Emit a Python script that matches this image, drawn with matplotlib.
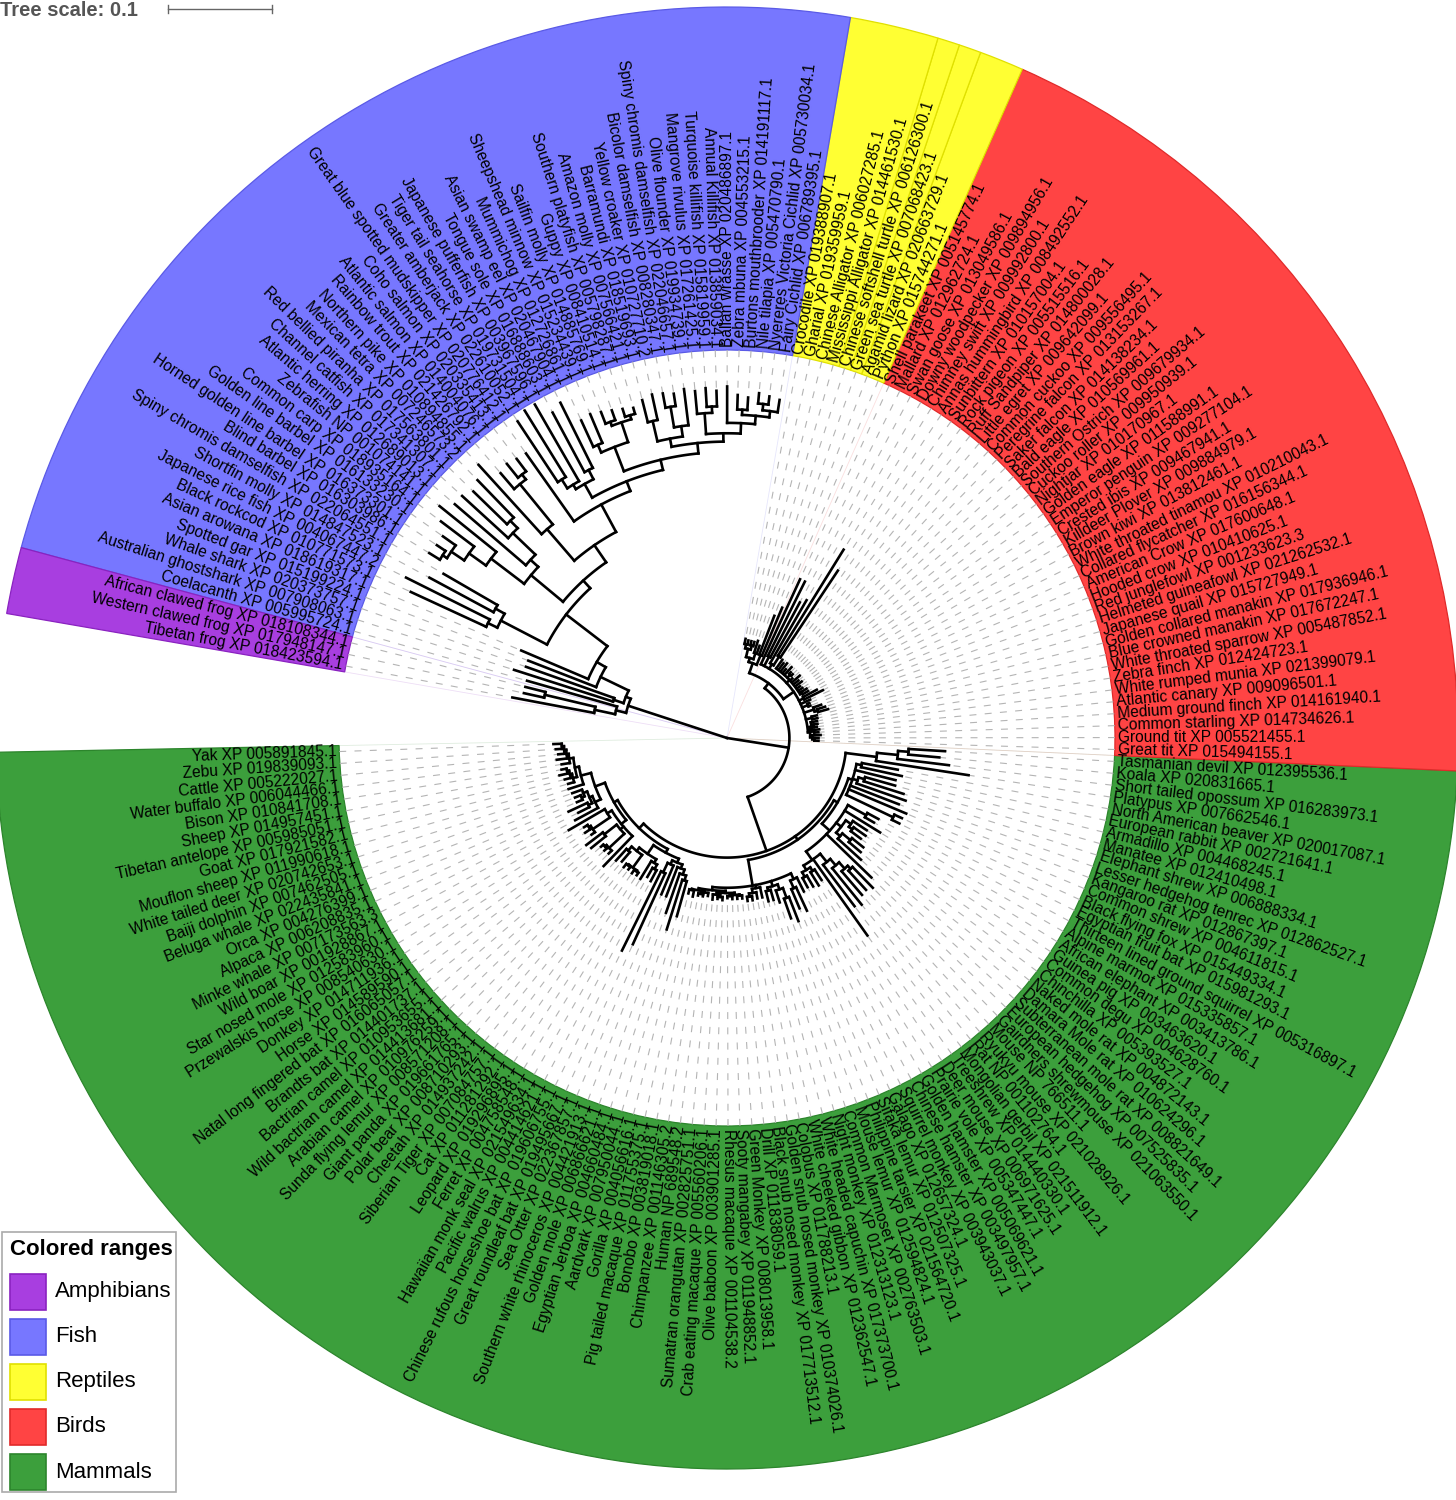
import re
import matplotlib
matplotlib.use('Agg')
import matplotlib.pyplot as plt
from matplotlib.patches import Wedge, Rectangle
from matplotlib.collections import LineCollection
import numpy as np

plt.rcParams['font.family'] = ['Liberation Sans', 'DejaVu Sans']
plt.rcParams['lines.scale_dashes'] = False

# ---------------- data ----------------
mammals = ["Yak XP 005891845.1", "Zebu XP 019839093.1", "Cattle XP 005222027.1", "Water buffalo XP 006044466.1",
           "Bison XP 010841708.1", "Sheep XP 014957451.1", "Tibetan antelope XP 005985051.1", "Goat XP 017921582.1",
           "Mouflon sheep XP 011990618.1", "White tailed deer XP 020742653.1", "Baiji dolphin XP 007462505.1",
           "Beluga whale XP 022435841.1", "Orca XP 004276399.1", "Alpaca XP 006208835.1", "Minke whale XP 007173563.3",
           "Wild boar XP 001928867.1", "Star nosed mole XP 012583960.1", "Przewalskis horse XP 008540630.1",
           "Donkey XP 014711936.1", "Horse XP 014589590.1", "Natal long fingered bat XP 016065057.1",
           "Brandts bat XP 014401737.1", "Bactrian camel XP 010953655.1", "Wild bactrian camel XP 014413681.1",
           "Arabian camel XP 010976259.1", "Sunda flying lemur XP 008571208.1", "Giant panda XP 019661765.1",
           "Polar bear XP 008710293.1", "Cheetah XP 014937242.1", "Siberian Tiger XP 007084757.1",
           "Cat XP 011281292.1", "Leopard XP 019296895.1", "Ferret XP 004758548.1",
           "Hawaiian monk seal XP 021549634.1", "Pacific walrus XP 004414621.1",
           "Chinese rufous horseshoe bat XP 019606755.1", "Great roundleaf bat XP 019495667.1",
           "Sea Otter XP 022367857.1", "Southern white rhinoceros XP 004421913.1", "Golden mole XP 006866621.1",
           "Egyptian Jerboa XP 004660484.1", "Aardvark XP 007950044.1", "Gorilla XP 004056616.1",
           "Pig tailed macaque XP 011755375.1", "Bonobo XP 003819018.1", "Chimpanzee XP 001146305.2",
           "Human NP 689548.2", "Sumatran orangutan XP 002825751.1", "Crab eating macaque XP 005560206.1",
           "Olive baboon XP 003901285.1", "Rhesus macaque XP 001104538.2", "Sooty mangabey XP 011948852.1",
           "Green Monkey XP 008013958.1", "Drill XP 011838059.1", "Black snub nosed monkey XP 017713512.1",
           "Golden snub nosed monkey XP 010374026.1", "Colobus XP 011788213.1",
           "White cheeked gibbon XP 012362547.1", "White headed capuchin XP 017373700.1",
           "Night monkey XP 012313123.1", "Common Marmoset XP 002763503.1", "Mouse lemur XP 012594824.1",
           "Philippine tarsier XP 021564720.1", "Sifaka lemur XP 012507325.1", "Galago XP 012657324.1",
           "Squirrel monkey XP 003943037.1", "Chinese hamster XP 003497957.1", "Golden hamster XP 005069621.1",
           "Prairie vole XP 005347447.1", "Deer mouse XP 006971625.1", "Treeshrew XP 014440330.1",
           "Mongolian gerbil XP 021511912.1", "Rat NP 001102764.1", "Ryukyu mouse XP 021028926.1",
           "Mouse NP 766511.1", "Gairdners shrewmouse XP 021063550.1", "European hedgehog XP 007525835.1",
           "Subterranean mole rat XP 008821649.1", "Damara Mole rat XP 010624296.1",
           "Naked mole rat XP 004872143.1", "Chinchilla XP 005393527.1", "Common degu XP 004628760.1",
           "Guinea pig XP 003463620.1", "African elephant XP 003413786.1", "Alpine marmot XP 015335857.1",
           "Thirteen lined ground squirrel XP 005316897.1", "Egyptian fruit bat XP 015981293.1",
           "Black flying fox XP 015449334.1", "Common shrew XP 004611815.1", "Kangaroo rat XP 012867397.1",
           "Lesser hedgehog tenrec XP 012862527.1", "Elephant shrew XP 006888334.1", "Manatee XP 012410498.1",
           "Armadillo XP 004468245.1", "European rabbit XP 002721641.1", "North American beaver XP 020017087.1",
           "Platypus XP 007662546.1", "Short tailed opossum XP 016283973.1", "Koala XP 020831665.1",
           "Tasmanian devil XP 012395536.1"]

birds = ["Great tit XP 015494155.1", "Ground tit XP 005521455.1", "Common starling XP 014734626.1",
         "Medium ground finch XP 014161940.1", "Atlantic canary XP 009096501.1", "White rumped munia XP 021399079.1",
         "Zebra finch XP 012424723.1", "White throated sparrow XP 005487852.1", "Blue crowned manakin XP 017672247.1",
         "Golden collared manakin XP 017936946.1", "Japanese quail XP 015727949.1",
         "Helmeted guineafowl XP 021262532.1", "Red junglefowl XP 001233623.3", "Hooded crow XP 010410625.1",
         "American Crow XP 017600648.1", "Collared flycatcher XP 016156344.1",
         "White throated tinamou XP 010210043.1", "Brown kiwi XP 013812461.1", "Killdeer Plover XP 009884979.1",
         "Crested ibis XP 009467941.1", "Emperor penguin XP 009277104.1", "Golden eagle XP 011588991.1",
         "Nightjar XP 010170967.1", "Cuckoo roller XP 009950939.1", "Southern Ostrich XP 009679934.1",
         "Bald eagle XP 010569961.1", "Saker falcon XP 014138234.1", "Peregrine falcon XP 013153267.1",
         "Common cuckoo XP 009556495.1", "Little egret XP 009642099.1", "Ruff Sandpiper XP 014800028.1",
         "Rock pigeon XP 005515516.1", "Sunbittern XP 010157004.1", "Annas hummingbird XP 008492552.1",
         "Chimney swift XP 009992800.1", "Downy woodpecker XP 009894956.1", "Swan goose XP 013049586.1",
         "Mallard XP 012962724.1", "Shell parakeet XP 005145774.1"]

reptiles = ["Python XP 015744271.1", "Agamid lizard XP 020663729.1", "Green sea turtle XP 007068423.1",
            "Chinese softshell turtle XP 006126300.1", "Mississippi Alligator XP 014461530.1",
            "Chinese Alligator XP 006027285.1", "Gharial XP 019359959.1", "Crocodile XP 019388907.1"]

fish = ["Fairy Cichlid XP 006789395.1", "Nyereres Victoria Cichlid XP 005730034.1", "Nile tilapia XP 005470790.1",
        "Burtons mouthbrooder XP 014191117.1", "Zebra mbuna XP 004553215.1", "Ballan wrasse XP 020486897.1",
        "Annual Killifish XP 013859034.1", "Turquoise killifish XP 015819959.1", "Mangrove rivulus XP 017261425.1",
        "Olive flounder XP 019934739.1", "Spiny chromis damselfish XP 022046657.1",
        "Bicolor damselfish XP 008280347.1", "Yellow croaker XP 010727710.2", "Barramundi XP 018519693.1",
        "Amazon molly XP 007566421.1", "Southern platyfish XP 005798287.1", "Guppy XP 008410514.1",
        "Sailfin molly XP 014885769.1", "Sheepshead minnow XP 015234439.1", "Mummichog XP 012726861.1",
        "Asian swamp eel XP 020467904.1", "Tongue sole XP 016888603.1", "Japanese pufferfish XP 003967596.1",
        "Tiger tail seahorse XP 019731504.1", "Greater amberjack XP 022610052.1",
        "Great blue spotted mudskipper XP 020776412.1", "Coho salmon XP 020335413.1",
        "Atlantic salmon XP 014004076.1", "Rainbow trout XP 021426792.1", "Northern pike XP 010894855.1",
        "Mexican tetra XP 007246573.2", "Red bellied piranha XP 017563801.1", "Channel catfish XP 017341307.1",
        "Atlantic herring XP 012689013.1", "Zebrafish NP 001074141.1", "Common carp XP 018935164.1",
        "Golden line barbel XP 016133230.1", "Horned golden line barbel XP 016373301.1",
        "Blind barbel XP 016303986.1", "Spiny chromis damselfish XP 022064551.1",
        "Shortfin molly XP 014847523.1", "Japanese rice fish XP 004067447.2", "Black rockcod XP 010771573.1",
        "Asian arowana XP 018619317.1", "Spotted gar XP 015199224.1", "Whale shark XP 020373757.1",
        "Australian ghostshark XP 007908063.1", "Coelacanth XP 005995724.1"]

amphibians = ["African clawed frog XP 018108344.1", "Western clawed frog XP 017948147.1",
              "Tibetan frog XP 018423594.1"]

legend_names = ["Amphibians", "Fish", "Reptiles", "Birds", "Mammals"]
legend_colors = ["#a83ee0", "#7777ff", "#ffff33", "#ff4444", "#3c9f3c"]
edge_colors = ["#8a22c0", "#5a5ae6", "#e0e000", "#e02a2a", "#2c852c"]

# ---------------- tree (estimated branch lengths, Newick pieces) ----------------
RUM = "((((((m0:.008,m1:.006):.002,m2:.006):.002,m3:.01):.002,m4:.008):.004,(((m5:.005,m6:.008):.002,m7:.006):.002,m8:.006):.004):.004,m9:.015)"
CET = "(((m10:.01,(m11:.006,m12:.006):.003):.004,(m13:.02,m14:.012):.004):.003,m15:.025)"
G2 = "((m16:.04,((m17:.004,m18:.006):.002,m19:.004):.02):.005,((m20:.02,m21:.018):.015,((m22:.003,m23:.003):.002,m24:.004):.02):.004,m25:.04)"
CARN = "(((m26:.015,m27:.012):.005,((m28:.004,m29:.003):.001,(m30:.004,m31:.003):.001):.015):.004,(m32:.02,(m33:.01,m34:.012):.005):.004)"
G4 = "(((m35:.085,m36:.075):.01,m37:.03):.004,(m38:.03,(m39:.04,(m40:.05,m41:.035):.005):.005):.004)"
PRIM = "((((m42:.004,m43:.006):.001,((m44:.002,m45:.002):.002,m46:.003):.001):.002,((m47:.005,(m48:.002,m49:.003):.002):.002,((m50:.002,m51:.003):.001,(m52:.003,m53:.003):.001):.002):.002):.003,(((m54:.004,m55:.004):.003,m56:.006):.004,m57:.01):.003,((m58:.01,m59:.01):.003,(m60:.012,(m61:.02,m62:.025):.01):.005):.005,((m63:.02,m64:.025):.008,m65:.015):.006)"
ROD = "((((m66:.01,m67:.012):.005,(m68:.015,m69:.012):.004):.005,m70:.09,(m71:.05,(m72:.045,(m73:.03,(m74:.025,m75:.028):.004):.008):.008):.01):.01,m76:.06,((m77:.03,(m78:.015,m79:.014):.01):.005,((m80:.012,m81:.014):.004,m82:.016):.006):.006,m83:.04,(m84:.01,m85:.012):.02)"
G7 = "((m86:.008,m87:.008):.05,m88:.06,m89:.05,(m90:.05,(m91:.04,m92:.03):.006):.005,m93:.04,(m94:.04,m95:.035):.005)"
MARS = "(m96:.09,(m97:.05,(m98:.03,m99:.035):.01):.02)"
ART = f"({RUM}:.01,{CET}:.006)"
MAM = f"((({ART}:.01,{G2}:.006):.004,({CARN}:.01,{G4}:.004):.004):.006,({PRIM}:.025,({ROD}:.01,{G7}:.004):.004):.004,{MARS}:.03)"

BIRD = "((((b0:.004,b1:.004):.002,b2:.008):.002,((b3:.004,b4:.005):.002,(b5:.003,b6:.004):.002,b7:.006):.002):.002,(b8:.005,b9:.005):.006,((b10:.01,b11:.008):.003,b12:.008):.01,(b13:.002,b14:.002):.006,b15:.01,(b16:.02,b17:.015):.005,((b18:.006,b19:.006):.002,b20:.005,b21:.004,b22:.008,b23:.006,b24:.01,b25:.003,(b26:.002,b27:.002):.004,b28:.01,b29:.005,b30:.01,b31:.008,b32:.01):.004,((b33:.1,b34:.12):.01,b35:.07):.005,(b36:.06,b37:.08):.01,b38:.09)"
REPT = "((r0:.05,r1:.04):.01,((r2:.008,r3:.012):.006,((r4:.004,r5:.004):.004,(r6:.004,r7:.005):.004):.008):.004)"
SAUR = f"({BIRD}:.012,{REPT}:.01)"
AMNIOTE = f"({MAM}:.055,{SAUR}:.006)"

F1 = "(((f0:.012,(f1:.008,f2:.01):.006):.006,(f3:.012,f4:.014):.005):.008,f5:.035)"
F2 = "((f6:.015,f7:.018):.006,f8:.022)"
F3 = "(f9:.035,(f10:.012,f11:.014):.02)"
F4 = "(f12:.025,f13:.022)"
F5 = "(((f14:.006,f15:.008):.004,(f16:.01,f17:.012):.004):.02,(f18:.03,f19:.028):.008)"
F6 = "((f20:.07,f21:.065):.01,(f22:.085,(f23:.075,f24:.07):.01):.005)"
CC = f"({F1}:.01,{F2}:.02)"
BB = f"({CC}:.008,({F3}:.01,{F4}:.02):.008)"
AA = f"({BB}:.01,{F5}:.025)"
PERC = f"(({AA}:.01,{F6}:.015):.01,f25:.08)"
SALM = "(((f26:.015,f27:.017):.006,f28:.02):.05,f29:.09)"
EUT = f"({PERC}:.03,{SALM}:.04)"
F9 = "((f30:.05,f31:.045):.01,f32:.06)"
F10 = "(f34:.07,(f35:.04,(f36:.015,(f37:.01,f38:.012):.005):.015):.02)"
OTO = f"(({F9}:.03,f33:.09):.01,{F10}:.04)"
LONG = "((f39:.06,f40:.07):.01,(f41:.09,f42:.08):.01)"
TEL = f"(({EUT}:.02,{OTO}:.04):.01,{LONG}:.05)"
FISHMAIN = f"(({TEL}:.05,f43:.07):.01,f44:.07)"
AMPH = "((a0:.02,a1:.02):.05,a2:.08)"
FISHAMPH = f"(({FISHMAIN}:.03,(f45:.09,f46:.1):.01):.005,(f47:.09,{AMPH}:.02):.01)"
TREE = f"({AMNIOTE}:.06,{FISHAMPH}:.1)"

# ---------------- geometry ----------------
W, H = 1456, 1500
CX, CY = 727, 762
R_IN, R_OUT = 388, 731
PX = 1040.0          # pixels per tree unit (scale bar 0.1 = 104 px)
THETA0 = 182.0
STEP = 1.763

group_lists = [mammals, birds, reptiles, fish, amphibians]
prefixes = ['m', 'b', 'r', 'f', 'a']
offsets = {}
labels = []
for p, g in zip(prefixes, group_lists):
    offsets[p] = len(labels)
    labels.extend(g)
N = len(labels)
angles = THETA0 + STEP * np.arange(N)


def parse_newick(s):
    tokens = re.findall(r'\(|\)|,|:[0-9.]+|[a-z][0-9]+', s)
    pos = 0

    def node():
        nonlocal pos
        if tokens[pos] == '(':
            pos += 1
            ch = [node()]
            while tokens[pos] == ',':
                pos += 1
                ch.append(node())
            pos += 1
            n = {'children': ch}
        else:
            n = {'leaf': offsets[tokens[pos][0]] + int(tokens[pos][1:])}
            pos += 1
        n['len'] = 0.0
        if pos < len(tokens) and tokens[pos].startswith(':'):
            n['len'] = float(tokens[pos][1:])
            pos += 1
        return n
    return node()


root = parse_newick(TREE)


def layout(n, depth):
    n['depth'] = depth
    if 'leaf' in n:
        n['angle'] = angles[n['leaf']]
    else:
        for c in n['children']:
            layout(c, depth + c['len'])
        n['angle'] = 0.5 * (n['children'][0]['angle'] + n['children'][-1]['angle'])


layout(root, 0.0)


def pol(r, th):
    t = np.deg2rad(th)
    return CX + r * np.cos(t), CY + r * np.sin(t)


segs = []
tips = []


def collect(n, parent_depth):
    r1 = n['depth'] * PX
    if parent_depth is not None:
        r0 = parent_depth * PX
        segs.append([pol(r0, n['angle']), pol(r1, n['angle'])])
    if 'leaf' in n:
        tips.append((n['leaf'], r1))
    else:
        a0 = n['children'][0]['angle']
        a1 = n['children'][-1]['angle']
        k = max(2, int(abs(a1 - a0) * 2) + 2)
        th = np.linspace(a0, a1, k)
        segs.append([pol(r1, t) for t in th])
        for c in n['children']:
            collect(c, n['depth'])


collect(root, None)

# ---------------- figure ----------------
fig = plt.figure(figsize=(W / 100, H / 100), dpi=100)
ax = fig.add_axes([0, 0, 1, 1])
ax.set_xlim(0, W)
ax.set_ylim(0, H)
ax.axis('off')


def rng(i0, i1):
    return angles[i0] - STEP / 2, angles[i1] + STEP / 2


ranges = [
    (offsets['m'], offsets['m'] + len(mammals) - 1, 4, True),
    (offsets['b'], offsets['b'] + len(birds) - 1, 3, True),
    (offsets['r'], offsets['r'] + 1, 2, False),
    (offsets['r'] + 2, offsets['r'] + 2, 2, False),
    (offsets['r'] + 3, offsets['r'] + 3, 2, False),
    (offsets['r'] + 4, offsets['r'] + 7, 2, False),
    (offsets['f'], offsets['f'] + len(fish) - 1, 1, True),
    (offsets['a'], offsets['a'] + len(amphibians) - 1, 0, True),
]
for i0, i1, ci, faint in ranges:
    t0, t1 = rng(i0, i1)
    ax.add_patch(Wedge((CX, CY), R_OUT, t0, t1, width=R_OUT - R_IN,
                       facecolor=legend_colors[ci], edgecolor=edge_colors[ci], lw=0.9, zorder=1))
    if faint:
        for t in (t0, t1):
            ax.plot(*zip(pol(0, t), pol(R_IN, t)), color=edge_colors[ci], lw=0.6, alpha=0.15, zorder=1)

# dashed leaf extensions
for leaf, r in tips:
    th = angles[leaf]
    p0 = pol(R_IN, th)
    p1 = pol(r, th)
    ax.plot([p0[0], p1[0]], [p0[1], p1[1]], color='#b4b4b4', lw=0.8,
            dashes=(5, 6), zorder=2)

# tree
ax.add_collection(LineCollection(segs, colors='black', linewidths=1.9,
                                 capstyle='projecting', joinstyle='miter', zorder=3))

# leaf labels
for i, lab in enumerate(labels):
    th = angles[i] % 360
    x, y = pol(R_IN + 3, th)
    if 90 < th < 270:
        ax.text(x, y, lab, rotation=th - 180, rotation_mode='anchor', ha='right', va='center',
                fontsize=11.2, color='black', zorder=4)
    else:
        rot = th if th <= 90 else th - 360
        ax.text(x, y, lab, rotation=rot, rotation_mode='anchor', ha='left', va='center',
                fontsize=11.2, color='black', zorder=4)

# tree scale
ax.text(0, H - 16, 'Tree scale: 0.1', fontsize=14.5, fontweight='bold', color='#555555',
        ha='left', va='baseline')
ys = H - 9
ax.plot([168, 168 + 0.1 * PX], [ys, ys], color='#666666', lw=1.0)
for xe in (168, 168 + 0.1 * PX):
    ax.plot([xe, xe], [ys - 4, ys + 4], color='#666666', lw=1.0)

# legend
ax.add_patch(Rectangle((2, H - 1492), 174, 260, facecolor='white', edgecolor='#aaaaaa', lw=1.2, zorder=5))
ax.text(10, H - 1250, 'Colored ranges', fontsize=16, fontweight='bold', ha='left', va='center', zorder=6)
for i, (nm, col, ec) in enumerate(zip(legend_names, legend_colors, edge_colors)):
    yc = H - (1292 + 45 * i)
    ax.add_patch(Rectangle((10, yc - 18), 36, 36, facecolor=col, edgecolor=ec, lw=1.2, zorder=6))
    ax.text(55, yc, nm, fontsize=16, ha='left', va='center', zorder=6)

fig.savefig('out.png', dpi=100)
